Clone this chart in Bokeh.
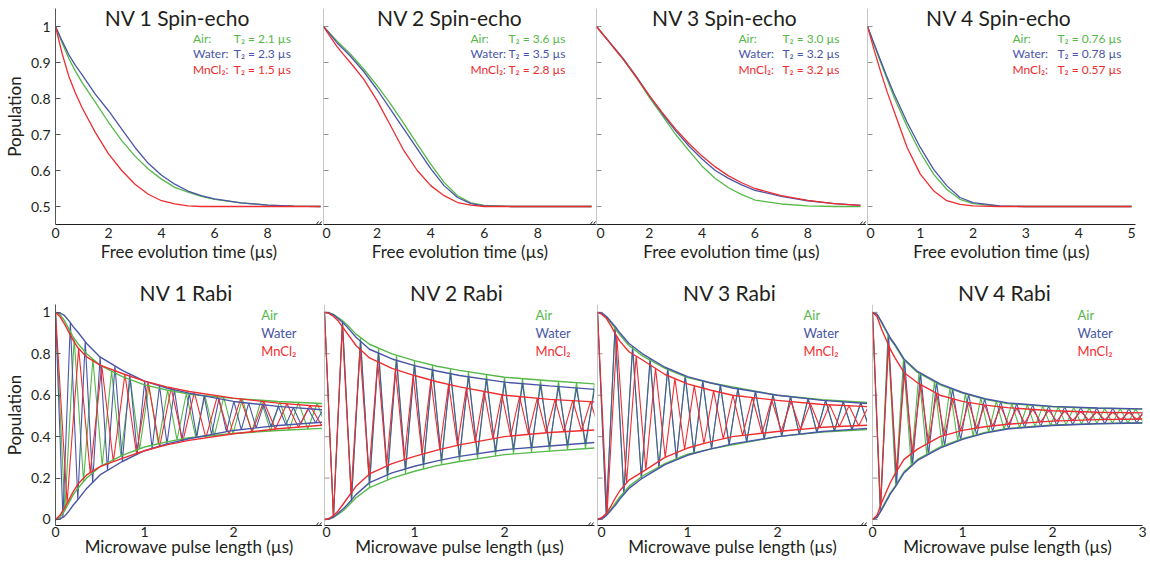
import numpy as np
from bokeh.plotting import figure
from bokeh.layouts import row, column
from bokeh.models import Range1d, FixedTicker, Label, Arrow, Span
from bokeh.embed import file_html
from bokeh.resources import INLINE

# ---------------- data ----------------
panel_names = ["NV 1", "NV 2", "NV 3", "NV 4"]
se_series = ["Air:", "Water:", "MnCl₂:"]
rabi_series = ["Air", "Water", "MnCl₂"]
se_t2_text = [["2.1", "2.3", "1.5"], ["3.6", "3.5", "2.8"],
              ["3.0", "3.2", "3.2"], ["0.76", "0.78", "0.57"]]

se_ticks_long = [0, 2, 4, 6, 8]
se_ticks_short = [0, 1, 2, 3, 4, 5]
se_yticks = [0.5, 0.6, 0.7, 0.8, 0.9, 1.0]
rabi_xticks = [0, 1, 2]
rabi_xticks_last = [0, 1, 2, 3]
rabi_yticks = [0, 0.2, 0.4, 0.6, 0.8, 1.0]

# spin-echo fit curves (population vs free evolution time, us)
se_time_long = [0, 0.25, 0.5, 0.75, 1, 1.5, 2, 2.5, 3, 3.5, 4, 4.5, 5, 5.5, 6, 7, 8, 9, 10]
se_time_short = [0, 0.125, 0.25, 0.375, 0.5, 0.75, 1, 1.25, 1.5, 1.75, 2, 2.5, 3, 4, 5]

se_nv1_air = [1.0, 0.955, 0.912, 0.876, 0.845, 0.79, 0.734, 0.683, 0.64, 0.604, 0.576, 0.553, 0.54, 0.528, 0.52, 0.51, 0.504, 0.501, 0.5]
se_nv1_water = [1.0, 0.96, 0.922, 0.892, 0.866, 0.812, 0.766, 0.715, 0.664, 0.62, 0.587, 0.562, 0.543, 0.53, 0.521, 0.51, 0.504, 0.501, 0.5]
se_nv1_mncl2 = [1.0, 0.925, 0.862, 0.815, 0.775, 0.706, 0.646, 0.6, 0.562, 0.534, 0.516, 0.507, 0.502, 0.5, 0.5, 0.5, 0.5, 0.5, 0.5]

se_nv2_air = [1.0, 0.98, 0.96, 0.942, 0.924, 0.882, 0.836, 0.785, 0.73, 0.673, 0.618, 0.567, 0.53, 0.51, 0.503, 0.5, 0.5, 0.5, 0.5]
se_nv2_water = [1.0, 0.978, 0.955, 0.937, 0.918, 0.875, 0.825, 0.77, 0.715, 0.66, 0.605, 0.558, 0.525, 0.508, 0.502, 0.5, 0.5, 0.5, 0.5]
se_nv2_mncl2 = [1.0, 0.972, 0.945, 0.922, 0.9, 0.854, 0.794, 0.725, 0.655, 0.6, 0.558, 0.53, 0.511, 0.504, 0.5, 0.5, 0.5, 0.5, 0.5]

se_nv3_air = [1.0, 0.978, 0.956, 0.933, 0.91, 0.859, 0.803, 0.752, 0.7, 0.655, 0.612, 0.578, 0.552, 0.533, 0.518, 0.507, 0.502, 0.5, 0.5]
se_nv3_water = [1.0, 0.978, 0.956, 0.934, 0.912, 0.862, 0.808, 0.757, 0.71, 0.668, 0.632, 0.6, 0.578, 0.56, 0.545, 0.528, 0.516, 0.508, 0.503]
se_nv3_mncl2 = [1.0, 0.977, 0.955, 0.932, 0.91, 0.86, 0.808, 0.76, 0.715, 0.675, 0.64, 0.61, 0.585, 0.566, 0.55, 0.53, 0.517, 0.508, 0.503]

se_nv4_air = [1.0, 0.95, 0.9, 0.852, 0.805, 0.722, 0.65, 0.59, 0.548, 0.52, 0.508, 0.501, 0.5, 0.5, 0.5]
se_nv4_water = [1.0, 0.952, 0.905, 0.858, 0.814, 0.734, 0.664, 0.604, 0.558, 0.525, 0.511, 0.502, 0.5, 0.5, 0.5]
se_nv4_mncl2 = [1.0, 0.935, 0.874, 0.817, 0.766, 0.664, 0.59, 0.544, 0.516, 0.506, 0.502, 0.5, 0.5, 0.5, 0.5]

# Rabi fits: upper decay envelope (lower envelope mirrored about 0.5) and oscillation period (us)
rabi_env_time = [0, 0.05, 0.1, 0.15, 0.2, 0.25, 0.35, 0.5, 0.75, 1, 1.25, 1.5, 2, 2.5, 3]
rabi_nv1_air = [1.0, 0.99, 0.96, 0.92, 0.88, 0.85, 0.8, 0.745, 0.69, 0.65, 0.625, 0.605, 0.585, 0.57, 0.56]
rabi_nv1_water = [1.0, 0.997, 0.985, 0.96, 0.93, 0.905, 0.85, 0.785, 0.72, 0.668, 0.635, 0.61, 0.57, 0.546, 0.53]
rabi_nv1_mncl2 = [1.0, 0.98, 0.945, 0.905, 0.865, 0.83, 0.785, 0.745, 0.705, 0.668, 0.64, 0.618, 0.586, 0.562, 0.545]
rabi_nv2_air = [1.0, 0.998, 0.99, 0.975, 0.96, 0.94, 0.895, 0.846, 0.8, 0.767, 0.74, 0.72, 0.687, 0.67, 0.655]
rabi_nv2_water = [1.0, 0.998, 0.988, 0.97, 0.952, 0.93, 0.88, 0.822, 0.775, 0.743, 0.717, 0.695, 0.663, 0.645, 0.628]
rabi_nv2_mncl2 = [1.0, 0.995, 0.98, 0.96, 0.93, 0.9, 0.84, 0.78, 0.73, 0.695, 0.665, 0.64, 0.6, 0.58, 0.568]
rabi_nv3_air = [1.0, 0.995, 0.975, 0.95, 0.92, 0.89, 0.84, 0.79, 0.73, 0.685, 0.66, 0.64, 0.6, 0.578, 0.565]
rabi_nv3_water = [1.0, 0.997, 0.98, 0.955, 0.93, 0.9, 0.85, 0.8, 0.735, 0.69, 0.66, 0.635, 0.6, 0.575, 0.56]
rabi_nv3_mncl2 = [1.0, 0.99, 0.97, 0.935, 0.895, 0.86, 0.81, 0.77, 0.7, 0.655, 0.625, 0.6, 0.575, 0.555, 0.545]
rabi_nv4_air = [1.0, 0.99, 0.95, 0.91, 0.87, 0.84, 0.77, 0.71, 0.65, 0.61, 0.58, 0.56, 0.544, 0.537, 0.533]
rabi_nv4_water = [1.0, 0.99, 0.955, 0.915, 0.875, 0.845, 0.775, 0.715, 0.655, 0.613, 0.583, 0.563, 0.546, 0.538, 0.534]
rabi_nv4_mncl2 = [1.0, 0.98, 0.92, 0.87, 0.82, 0.78, 0.71, 0.66, 0.6, 0.57, 0.552, 0.54, 0.525, 0.518, 0.515]
rabi_period_nv1 = [0.21, 0.167, 0.26]
rabi_period_nv2 = [0.2, 0.2, 0.197]
rabi_period_nv3 = [0.195, 0.195, 0.215]
rabi_period_nv4 = [0.172, 0.178, 0.178]

# ---------------- styling ----------------
FONT = "Lato"
TXT = "#231f20"
COLORS = ["#55b848", "#4a55a7", "#ee2d31"]

se_data = [(se_time_long, [se_nv1_air, se_nv1_water, se_nv1_mncl2]),
           (se_time_long, [se_nv2_air, se_nv2_water, se_nv2_mncl2]),
           (se_time_long, [se_nv3_air, se_nv3_water, se_nv3_mncl2]),
           (se_time_short, [se_nv4_air, se_nv4_water, se_nv4_mncl2])]
rabi_data = [([rabi_nv1_air, rabi_nv1_water, rabi_nv1_mncl2], rabi_period_nv1),
             ([rabi_nv2_air, rabi_nv2_water, rabi_nv2_mncl2], rabi_period_nv2),
             ([rabi_nv3_air, rabi_nv3_water, rabi_nv3_mncl2], rabi_period_nv3),
             ([rabi_nv4_air, rabi_nv4_water, rabi_nv4_mncl2], rabi_period_nv4)]

# geometry (px); "top" = page y of the row's top edge
TOP = dict(fig_w=[322, 274, 270, 284], bl=[52, 1, 0, 1], br=[0, 0, 0, 15],
           fleft=[52, 323, 596, 867], fw=[270, 273, 270, 268],
           x_end=[270 / 26.8, 273 / 26.8, 270 / 26.4, 268 / 52.8],
           top=0, h=277, bt=8, bb=53, y0=0.45, y1=1.05)
BOT = dict(fig_w=[322, 275, 270, 283], bl=[52, 2, 0, 5], br=[0, 3, 0, 8],
           fleft=[52, 324, 597, 872], fw=[270, 270, 270, 270],
           x_end=[3.0, 3.0, 3.0, 3.0],
           top=277, h=288, bt=25, bb=40, y0=-0.029, y1=1.038)


def to_data(g, i, px, py):
    """page pixel -> data coordinates of panel i in row g"""
    xs = g["fw"][i] / g["x_end"][i]
    fh = g["h"] - g["bt"] - g["bb"]
    ys = fh / (g["y1"] - g["y0"])
    return (px - g["fleft"][i]) / xs, g["y1"] - (py - g["top"] - g["bt"]) / ys


def base_fig(g, i, xlabel, xticks, yticks, overrides, tick_standoff, label_standoff, title=None):
    p = figure(width=g["fig_w"][i], height=g["h"],
               x_range=Range1d(0, g["x_end"][i]), y_range=Range1d(g["y0"], g["y1"]),
               output_backend="svg", toolbar_location=None,
               min_border_left=g["bl"][i], min_border_right=g["br"][i],
               min_border_top=g["bt"], min_border_bottom=g["bb"])
    if title:
        p.title.text = title
        p.title.align = "center"
        p.title.text_font = FONT
        p.title.text_font_size = "21px"
        p.title.text_font_style = "normal"
        p.title.text_color = TXT
        p.title.standoff = 0
    p.outline_line_color = None
    p.grid.visible = False
    p.background_fill_color = "white"
    p.border_fill_color = "white"
    xa = p.xaxis[0]
    xa.ticker = FixedTicker(ticks=xticks)
    xa.axis_label = xlabel
    xa.axis_label_text_font = FONT
    xa.axis_label_text_font_size = "17px"
    xa.axis_label_text_font_style = "normal"
    xa.axis_label_text_color = TXT
    xa.axis_label_standoff = label_standoff
    xa.major_label_text_font = FONT
    xa.major_label_text_font_size = "14px"
    xa.major_label_text_color = TXT
    xa.major_label_standoff = tick_standoff
    xa.major_tick_in = 0
    xa.major_tick_out = 0
    xa.minor_tick_in = 0
    xa.minor_tick_out = 0
    xa.axis_line_color = TXT
    if i == 0:
        ya = p.yaxis[0]
        ya.ticker = FixedTicker(ticks=yticks)
        ya.major_tick_in = 5
        ya.major_tick_out = 0
        ya.minor_tick_in = 0
        ya.minor_tick_out = 0
        ya.axis_label = "Population"
        ya.axis_label_text_font = FONT
        ya.axis_label_text_font_size = "17px"
        ya.axis_label_text_font_style = "normal"
        ya.axis_label_text_color = TXT
        ya.axis_label_standoff = 3
        ya.major_label_text_font = FONT
        ya.major_label_text_font_size = "14px"
        ya.major_label_text_color = TXT
        ya.major_label_standoff = 5
        ya.major_label_overrides = overrides
        ya.axis_line_color = "#555555"
        ya.major_tick_line_color = "#555555"
    else:
        # joined panel: plain grey axis line with inward ticks, no labels
        p.yaxis.visible = False
        p.add_layout(Span(location=0, dimension="height", line_color="#909090", line_width=1))
        tick_len = 5 * g["x_end"][i] / g["fw"][i]
        p.segment(x0=[0] * len(yticks), y0=yticks, x1=[tick_len] * len(yticks), y1=yticks,
                  line_color="#909090", line_width=1)
    return p


def add_break(p, g, i):
    fr = g["fleft"][i] + g["fw"][i]
    axis_py = g["top"] + g["h"] - g["bb"]
    for off in (0, 3):
        x0, y0 = to_data(g, i, fr - 10 + off, axis_py + 5)
        x1, y1 = to_data(g, i, fr - 4 + off, axis_py - 3)
        p.add_layout(Arrow(end=None, x_start=x0, y_start=y0, x_end=x1, y_end=y1,
                           line_color=TXT, line_width=1))


def txt(p, x, y, text, size, color, align="left"):
    p.add_layout(Label(x=x, y=y, text=text, text_font=FONT, text_font_size=size,
                       text_color=color, text_align=align, text_baseline="middle"))


top_figs = []
title_cx_top = [178, 452, 727, 1001]
name_px = [191, 470, 738, 1012]
right_px = [290, 565, 839, 1121]
legend_py = [38, 53, 69]
for i in range(4):
    xt = se_ticks_short if i == 3 else se_ticks_long
    p = base_fig(TOP, i, "Free evolution time (µs)", xt, se_yticks, {1.0: "1"}, 3, 0)
    t, ys = se_data[i]
    for k in range(3):
        p.line(t, ys[k], line_color=COLORS[k], line_width=1.3)
    tx, ty = to_data(TOP, i, title_cx_top[i], 17)
    txt(p, tx, ty, panel_names[i] + "  Spin-echo", "21px", TXT, "center")
    for k in range(3):
        nx, ny = to_data(TOP, i, name_px[i], legend_py[k])
        rx, _ = to_data(TOP, i, right_px[i], legend_py[k])
        txt(p, nx, ny, se_series[k], "12px", COLORS[k])
        txt(p, rx, ny, "T₂ = " + se_t2_text[i][k] + " µs", "12px", COLORS[k], "right")
    if i < 3:
        add_break(p, TOP, i)
    top_figs.append(p)

bot_figs = []
rabi_leg_px = [260, 535, 803, 1077]
rabi_leg_py = [313, 331, 349]
for i in range(4):
    xt = rabi_xticks_last if i == 3 else rabi_xticks
    p = base_fig(BOT, i, "Microwave pulse length (µs)", xt, rabi_yticks, {0: "0", 1.0: "1"}, 1, -4,
                 title=panel_names[i] + "  Rabi")
    envs, periods = rabi_data[i]
    et = np.array(rabi_env_time)
    for k in range(3):
        up = np.array(envs[k])
        half = periods[k] / 2.0
        tv = np.arange(0, 3.0 + half, half)
        upv = np.interp(tv, et, up)
        vals = np.where(np.arange(len(tv)) % 2 == 0, upv, 1.0 - upv)
        p.line(tv, vals, line_color=COLORS[k], line_width=1.1)
    for k in range(3):
        up = np.array(envs[k])
        p.line(et, up, line_color=COLORS[k], line_width=1.4)
        p.line(et, 1.0 - up, line_color=COLORS[k], line_width=1.4)
    for k in range(3):
        lx, ly = to_data(BOT, i, rabi_leg_px[i], rabi_leg_py[k])
        txt(p, lx, ly, rabi_series[k], "13px", COLORS[k])
    if i < 3:
        add_break(p, BOT, i)
    bot_figs.append(p)

layout = column(row(*top_figs), row(*bot_figs))
open("out.html", "w").write(file_html(layout, INLINE))
